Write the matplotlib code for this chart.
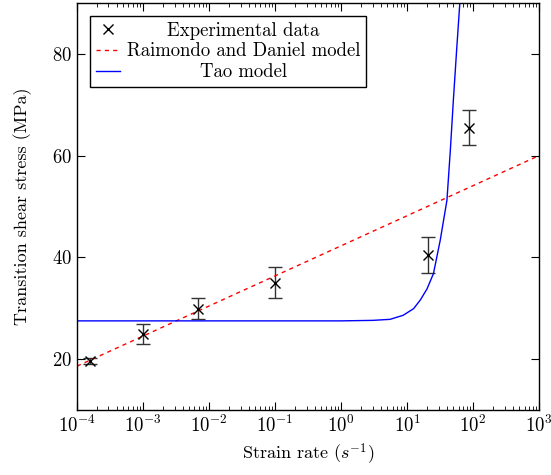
"""
Transition shear stress vs strain rate
"""
import matplotlib
matplotlib.use('Agg')
import matplotlib.pyplot as plt
from matplotlib.lines import Line2D
from matplotlib.ticker import LogLocator, NullFormatter

plt.rcParams['font.family'] = 'serif'
plt.rcParams['font.serif'] = ['cmr10']
plt.rcParams['mathtext.fontset'] = 'cm'
plt.rcParams['axes.formatter.use_mathtext'] = True

# Экспериментальные данные
exp_rate = [1.55e-4, 1.0e-3, 6.9e-3, 1.0e-1, 21.0, 86.0]
exp_stress = [19.7, 24.9, 29.9, 35.0, 40.4, 65.5]
exp_err = [0.6, 2.0, 2.0, 3.0, 3.5, 3.5]

# Модель Raimondo and Daniel (прямая в лог. масштабе)
rd_rate = [1e-4, 1e3]
rd_stress = [18.6, 60.0]

# Модель Tao (точки)
tao_rate = [1e-4, 1.0, 3.0, 5.5, 8.7, 12.5, 15.8, 20.0, 25.0, 31.6, 40.0, 45.0, 50.0, 56.0, 63.0]
tao_stress = [27.5, 27.5, 27.6, 27.8, 28.6, 29.9, 31.6, 33.8, 36.8, 43.3, 51.2, 61.0, 70.8, 80.6, 90.4]

labels = ['Experimental data', 'Raimondo and Daniel model', 'Tao model']

fig = plt.figure(figsize=(5.51, 4.75), dpi=100)
ax = fig.add_axes([0.1397, 0.137, 0.839, 0.857])

ax.errorbar(exp_rate, exp_stress, yerr=exp_err, fmt='x', color='black',
            ecolor='#333333', elinewidth=1.0, capsize=5, capthick=1.0,
            markersize=7, markeredgewidth=1.0)
ax.plot(rd_rate, rd_stress, color='red', linestyle=(0, (3, 3)), linewidth=1.0)
ax.plot(tao_rate, tao_stress, color='blue', linewidth=1.0)

ax.set_xscale('log')
ax.set_xlim(1e-4, 1e3)
ax.set_ylim(10, 90)
ax.set_yticks([20, 40, 60, 80])
ax.xaxis.set_major_locator(LogLocator(base=10, numticks=10))
ax.xaxis.set_minor_locator(LogLocator(base=10, subs=range(2, 10), numticks=20))
ax.xaxis.set_minor_formatter(NullFormatter())

ax.tick_params(which='both', direction='in', top=True, right=True, labelsize=13.5)
ax.tick_params(which='major', length=6, width=0.8)
ax.tick_params(which='minor', length=3, width=0.6)
for s in ax.spines.values():
    s.set_linewidth(1.0)

ax.set_xlabel('Strain rate ($s^{-1}$)', fontsize=13)
ax.set_ylabel('Transition shear stress (MPa)', fontsize=13)
ax.yaxis.set_label_coords(-0.098, 0.5)

handles = [
    Line2D([], [], color='black', marker='x', linestyle='none', markersize=7),
    Line2D([], [], color='red', linestyle=(0, (3, 3)), linewidth=1.0),
    Line2D([], [], color='blue', linewidth=1.0),
]
leg = ax.legend(handles, labels, loc='upper left', fontsize=13.5, fancybox=False,
                framealpha=1, edgecolor='black', handlelength=1.3,
                handletextpad=0.35, borderpad=0.3, labelspacing=0.15,
                borderaxespad=0.7)
leg.get_frame().set_linewidth(1.0)

# центрирование подписей легенды
fig.canvas.draw()
r = fig.canvas.get_renderer()
widths = [t.get_window_extent(r).width for t in leg.get_texts()]
wmax = max(widths)
for t, w in zip(leg.get_texts(), widths):
    t.set_x((wmax - w) / 2)

fig.savefig('out.png', dpi=100)
